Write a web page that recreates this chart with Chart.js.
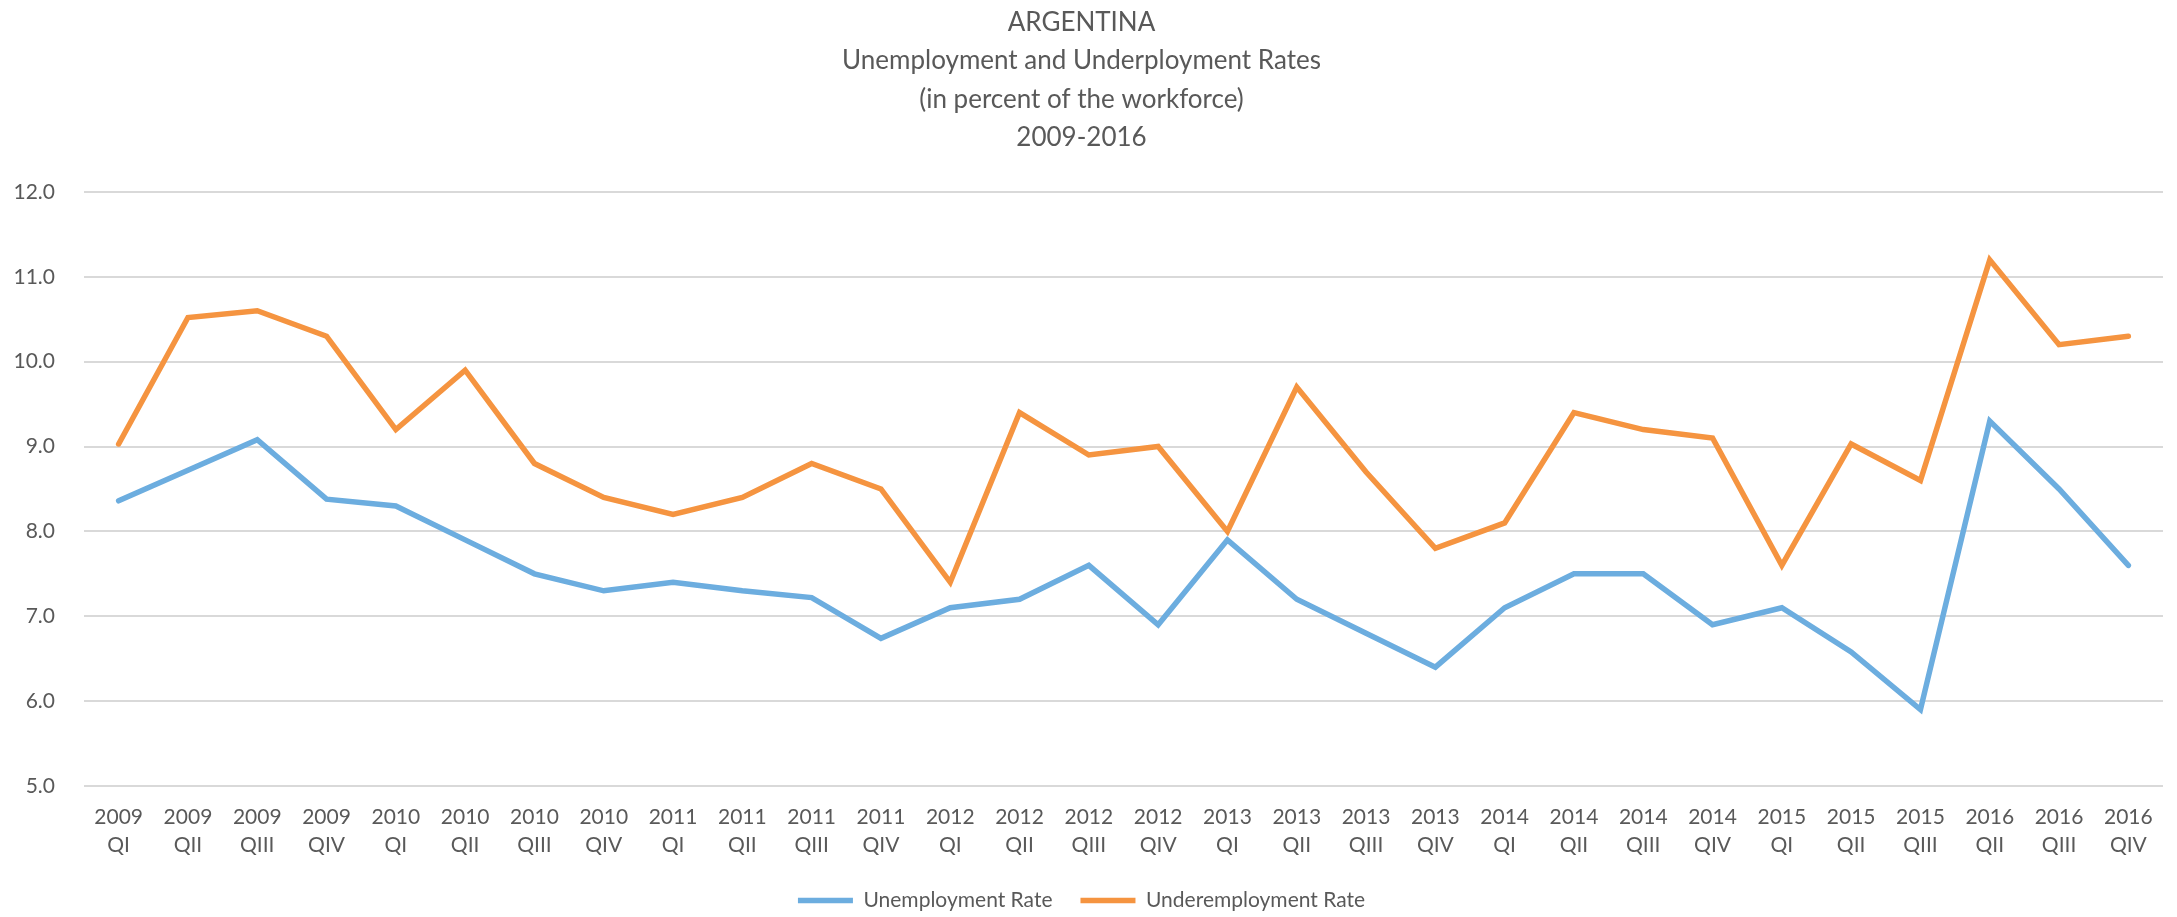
<!DOCTYPE html>
<html>
    <head>
        <meta charset="utf-8">
        <script src="https://cdn.jsdelivr.net/npm/chart.js@4"></script>
        <style>
            body {
                margin: 0;
                background: white;
            }

            .box {
                width: 2177px;
                height: 917px;
            }
        </style>
    </head>

    <body>
        <div class="box">
            <canvas id="wykres" width="2177" height="917"></canvas>
        </div>

        <script>
            const years = ["2009", "2009", "2009", "2009", "2010", "2010", "2010", "2010",
                           "2011", "2011", "2011", "2011", "2012", "2012", "2012", "2012",
                           "2013", "2013", "2013", "2013", "2014", "2014", "2014", "2014",
                           "2015", "2015", "2015", "2016", "2016", "2016"];
            const quarters = ["QI", "QII", "QIII", "QIV", "QI", "QII", "QIII", "QIV",
                              "QI", "QII", "QIII", "QIV", "QI", "QII", "QIII", "QIV",
                              "QI", "QII", "QIII", "QIV", "QI", "QII", "QIII", "QIV",
                              "QI", "QII", "QIII", "QII", "QIII", "QIV"];

            const unemployment = [8.36, 8.72, 9.08, 8.38, 8.3, 7.9, 7.5, 7.3, 7.4, 7.3, 7.22, 6.74,
                                  7.1, 7.2, 7.6, 6.9, 7.9, 7.2, 6.8, 6.4, 7.1, 7.5, 7.5, 6.9,
                                  7.1, 6.58, 5.9, 9.3, 8.5, 7.6];
            const underemployment = [9.03, 10.52, 10.6, 10.3, 9.2, 9.9, 8.8, 8.4, 8.2, 8.4, 8.8, 8.5,
                                     7.4, 9.4, 8.9, 9.0, 8.0, 9.7, 8.7, 7.8, 8.1, 9.4, 9.2, 9.1,
                                     7.6, 9.03, 8.6, 11.2, 10.2, 10.3];

            const titleLines = ["ARGENTINA", "Unemployment and Underployment Rates",
                                "(in percent of the workforce)", "2009-2016"];
            const yMin = 5;
            const yMax = 12;

            const szary = "#595959";
            const niebieski = "#6CADDF";
            const pomaranczowy = "#F59440";

            const etykiety = years.map((y, i) => [y, quarters[i]]);

            const dane = {
                labels: etykiety,
                datasets: [
                    {
                        label: "Unemployment Rate",
                        data: unemployment,
                        borderColor: niebieski,
                        backgroundColor: niebieski,
                        borderWidth: 5.5,
                        pointRadius: 0,
                        pointStyle: "line",
                        borderCapStyle: "round",
                        tension: 0
                    },
                    {
                        label: "Underemployment Rate",
                        data: underemployment,
                        borderColor: pomaranczowy,
                        backgroundColor: pomaranczowy,
                        borderWidth: 5.5,
                        pointRadius: 0,
                        pointStyle: "line",
                        borderCapStyle: "round",
                        tension: 0
                    }
                ]
            };

            Chart.defaults.font.family = "Lato, 'Open Sans', sans-serif";
            Chart.defaults.color = szary;

            const ctx = document.getElementById("wykres").getContext("2d");
            let wykres = new Chart(ctx, {
                type: "line",
                data: dane,
                options: {
                    responsive: false,
                    animation: false,
                    layout: { padding: { left: 0, right: 14, top: 0, bottom: -4 } },
                    plugins: {
                        tooltip: { enabled: false },
                        title: {
                            display: true,
                            text: titleLines,
                            color: szary,
                            font: { size: 26, weight: "normal", lineHeight: 1.48 },
                            padding: { top: 3, bottom: 35 }
                        },
                        legend: {
                            position: "bottom",
                            labels: {
                                usePointStyle: true,
                                pointStyleWidth: 55,
                                padding: 28,
                                color: szary,
                                font: { size: 21 }
                            }
                        }
                    },
                    scales: {
                        x: {
                            offset: true,
                            grid: { display: false, drawTicks: false },
                            border: { display: false },
                            ticks: {
                                autoSkip: false,
                                maxRotation: 0,
                                padding: 18,
                                color: szary,
                                font: { size: 21, lineHeight: 1.3 }
                            },
                            afterFit: function (scale) { scale.height = 76; }
                        },
                        y: {
                            min: yMin,
                            max: yMax,
                            grid: { color: "#D9D9D9", lineWidth: 2, drawTicks: false },
                            border: { display: false },
                            ticks: {
                                stepSize: 1,
                                padding: 29,
                                color: szary,
                                font: { size: 21 },
                                callback: function (v) { return v.toFixed(1); }
                            },
                            afterFit: function (scale) { scale.width = 84; }
                        }
                    }
                }
            });
        </script>
    </body>
</html>
